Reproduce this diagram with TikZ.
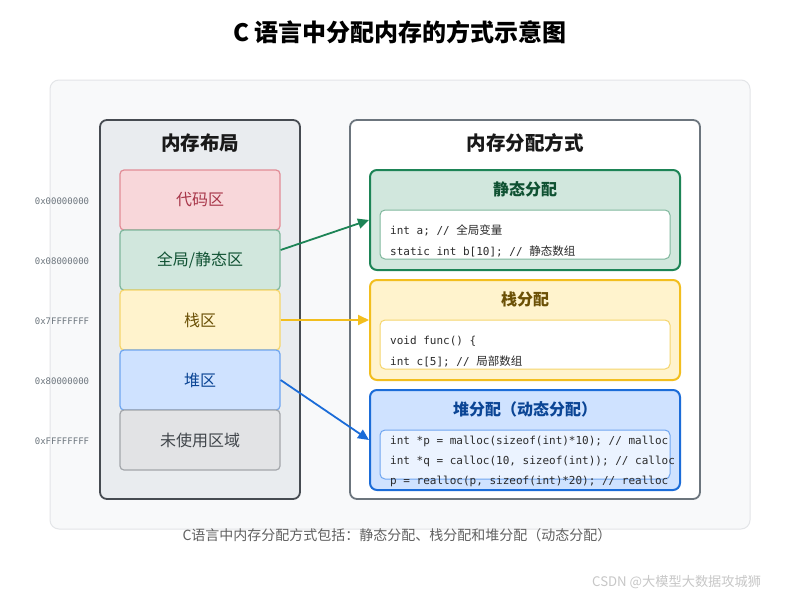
\documentclass[tikz,border=0pt]{standalone}
\usepackage{fontspec}
\setmainfont{Noto Sans CJK SC}
\newfontfamily\monof{DejaVu Sans Mono}
\usetikzlibrary{arrows.meta}
\definecolor{panelbg}{HTML}{F8F9FA}
\definecolor{panelbd}{HTML}{E3E5E8}
\definecolor{leftbg}{HTML}{E9ECEF}
\definecolor{leftbd}{HTML}{464B51}
\definecolor{rightbd}{HTML}{6C757D}
\definecolor{redbg}{HTML}{F8D7DA}\definecolor{redbd}{HTML}{E28C96}\definecolor{redtx}{HTML}{A8374A}
\definecolor{grnbg}{HTML}{D1E7DD}\definecolor{grnbd}{HTML}{7FB79C}\definecolor{grntx}{HTML}{0F5132}\definecolor{grnst}{HTML}{1D8456}
\definecolor{ylwbg}{HTML}{FFF3CD}\definecolor{ylwbd}{HTML}{F5D56B}\definecolor{ylwtx}{HTML}{6B5006}\definecolor{ylwst}{HTML}{F2BE1E}
\definecolor{blubg}{HTML}{CFE2FF}\definecolor{blubd}{HTML}{6FA6F0}\definecolor{blutx}{HTML}{0B4595}\definecolor{blust}{HTML}{1B6CD8}
\definecolor{grybg}{HTML}{E2E3E5}\definecolor{grybd}{HTML}{A3A6AA}\definecolor{grytx}{HTML}{41464B}
\definecolor{addr}{HTML}{6C757D}
\definecolor{codetx}{HTML}{2B2B2B}
\newcommand{\fs}[1]{\fontsize{#1}{#1}\selectfont}
\begin{document}
\begin{tikzpicture}[x=1pt,y=-1pt,
  boxn/.style={rectangle,rounded corners=#1,inner sep=0pt},
  seg/.style={boxn=4pt,line width=1.2pt,minimum width=160pt,minimum height=60pt,font=\fs{16}},
  addrlbl/.style={font=\monof\fs{9},text=addr,inner sep=0pt},
  codel/.style={anchor=west,inner sep=0pt,font=\fs{11.5},text=codetx},
  ptr/.style={line width=1.8pt,-{Triangle[length=11pt,width=10pt]}},
  ttl/.style={font=\bfseries\fs{19.5},text=black!90,inner sep=0pt},
  subttl/.style={font=\bfseries\fs{16},inner sep=0pt}]
\useasboundingbox[fill=white] (0,0) rectangle (800,600);
\node[font=\bfseries\fs{24},inner sep=0pt] (title) at (400,32) {C 语言中分配内存的方式示意图};
\node[boxn=9pt,draw=panelbd,fill=panelbg,line width=1pt,minimum width=700pt,minimum height=449pt] (panel) at (400,304.5) {};
% left column
\node[boxn=7pt,draw=leftbd,fill=leftbg,line width=1.8pt,minimum width=200pt,minimum height=379pt] (left) at (200,309.5) {};
\node[ttl] (lt) at (200,143) {内存布局};
\node[seg,draw=redbd,fill=redbg,text=redtx] (code) at (200,200) {代码区};
\node[seg,draw=grnbd,fill=grnbg,text=grntx] (glob) at (200,260) {全局/静态区};
\node[seg,draw=ylwbd,fill=ylwbg,text=ylwtx] (stk) at (200,320) {栈区};
\node[seg,draw=blubd,fill=blubg,text=blutx] (heap) at (200,380) {堆区};
\node[seg,draw=grybd,fill=grybg,text=grytx] (unused) at (200,440) {未使用区域};
\node[addrlbl] (a1) at (62,201) {0x00000000};
\node[addrlbl] (a2) at (62,261) {0x08000000};
\node[addrlbl] (a3) at (62,321) {0x7FFFFFFF};
\node[addrlbl] (a4) at (62,381) {0x80000000};
\node[addrlbl] (a5) at (62,441) {0xFFFFFFFF};
% right column
\node[boxn=7pt,draw=rightbd,fill=white,line width=1.8pt,minimum width=350pt,minimum height=379pt] (right) at (525,309.5) {};
\node[ttl] (rt) at (525,143) {内存分配方式};
% static
\node[boxn=7pt,draw=grnst,fill=grnbg,line width=2pt,minimum width=310pt,minimum height=100pt] (sbox) at (525,220) {};
\node[subttl,text=grntx] (st) at (525,189) {静态分配};
\node[boxn=5pt,draw=grnbd,fill=white,line width=1pt,minimum width=290pt,minimum height=49pt] (scode) at (525,234.5) {};
\node[codel] (s1) at (390,230) {{\monof\fs{11}int a; // }全局变量};
\node[codel] (s2) at (390,251) {{\monof\fs{11}static int b[10]; // }静态数组};
% stack
\node[boxn=7pt,draw=ylwst,fill=ylwbg,line width=2pt,minimum width=310pt,minimum height=100pt] (kbox) at (525,330) {};
\node[subttl,text=ylwtx] (kt) at (525,299) {栈分配};
\node[boxn=5pt,draw=ylwbd,fill=white,line width=1pt,minimum width=290pt,minimum height=49pt] (kcode) at (525,344.5) {};
\node[codel] (k1) at (390,341) {{\monof\fs{11}void func() \{}};
\node[codel] (k2) at (390,361) {{\monof\fs{11}int c[5]; // }局部数组};
% heap
\node[boxn=7pt,draw=blust,fill=blubg,line width=2pt,minimum width=310pt,minimum height=100pt] (hbox) at (525,440) {};
\node[subttl,text=blutx] (ht) at (525,409) {堆分配（动态分配）};
\node[boxn=5pt,draw=blubd,fill=white,fill opacity=0.6,line width=1pt,minimum width=290pt,minimum height=49pt] (hcode) at (525,454.5) {};
\node[codel] (h1) at (390,441) {{\monof\fs{11}int *p = malloc(sizeof(int)*10); // malloc}};
\node[codel] (h2) at (390,461) {{\monof\fs{11}int *q = calloc(10, sizeof(int)); // calloc}};
\node[codel] (h3) at (390,481) {{\monof\fs{11}p = realloc(p, sizeof(int)*20); // realloc}};
% arrows
\draw[ptr,grnst] ([yshift=10pt]glob.east) -- (sbox.west);
\draw[ptr,ylwst] (stk.east) -- (stk.east -| kbox.west);
\draw[ptr,blust] (heap.east) -- (hbox.west);
% caption & watermark
\node[font=\fs{14},text=black!62,inner sep=0pt] (cap) at (397,535) {C语言中内存分配方式包括：静态分配、栈分配和堆分配（动态分配）};
\node[font=\fs{13.2},text=black!22,inner sep=0pt,anchor=west] (wm) at (592,582) {CSDN @大模型大数据攻城狮};
\end{tikzpicture}
\end{document}
